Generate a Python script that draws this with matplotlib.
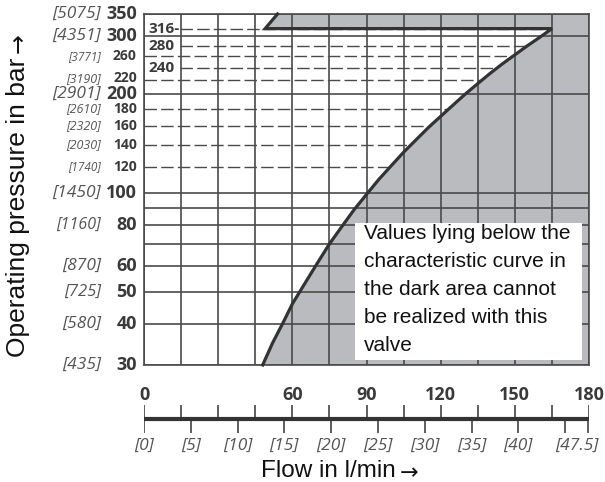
import numpy as np
import matplotlib.pyplot as plt
from matplotlib.patches import Rectangle
from matplotlib.transforms import offset_copy

# characteristic curve, flow in l/min vs pressure in bar
flow = [48, 52, 56, 60, 65, 70, 75, 80, 85, 90, 95, 100, 105, 110, 115, 120, 125, 130,
        135, 140, 145, 150, 155, 160, 165]
pressure = [30, 35, 40, 46, 53, 61, 70, 79, 89, 99, 110, 121, 133, 145, 158, 171, 185, 200,
            215, 231, 247, 263, 280, 297, 316]
p_max = 316
p_top = 350

# pressure axis
solid_levels = [30, 40, 50, 60, 70, 80, 90, 100, 200, 300, 350]
dashed_levels = [120, 140, 160, 180, 220, 260]
inner_levels = [316, 280, 240]
inner_labels = ['316-', '280', '240']
bar_labels = [350, 300, 260, 220, 200, 180, 160, 140, 120, 100, 80, 60, 50, 40, 30]
psi_labels = ['[5075]', '[4351]', '[3771]', '[3190]', '[2901]', '[2610]', '[2320]', '[2030]',
              '[1740]', '[1450]', '[1160]', '[870]', '[725]', '[580]', '[435]']
big_bar = [350, 300, 200, 100, 80, 60, 50, 40, 30]
psi_sizes = [12.5, 12.5, 8.5, 9, 12.5, 9, 9, 9, 8.5, 12.5, 11.5, 12.5, 12, 12.5, 12.5]

# flow axis
flow_ticks = list(range(0, 181, 15))
flow_labeled = [0, 60, 90, 120, 150, 180]
gal_ticks = [0, 5, 10, 15, 20, 25, 30, 35, 40, 45, 47.5]
gal_labels = ['[0]', '[5]', '[10]', '[15]', '[20]', '[25]', '[30]', '[35]', '[40]', '', '[47.5]']
L_PER_GAL = 3.785

W, H = 605, 482
fx = lambda x: x / W
fy = lambda y: 1 - y / H

grid_c = '#4a4a4a'
num_c = '#3a3a3a'
psi_c = '#555555'
fill_c = '#b9bbbf'
num_font = ['Open Sans', 'DejaVu Sans']
txt_font = ['Liberation Sans', 'DejaVu Sans']

fig = plt.figure(figsize=(W / 100, H / 100), dpi=100)

# main chart
ax = fig.add_axes([fx(144), fy(365), (589 - 144) / W, (365 - 14) / H])
ax.set_yscale('log')
ax.set_xlim(0, 180)
ax.set_ylim(30, 350)
ax.set_xticks([])
ax.set_yticks([])
ax.minorticks_off()
for s in ax.spines.values():
    s.set_color(grid_c)
    s.set_linewidth(1.2)

# dashed guide lines (under the shading)
ax.hlines(dashed_levels, 0, 180, colors=grid_c, linewidth=1.0, linestyles=(0, (9, 3)), zorder=1)
ax.hlines(inner_levels, 14.5, 180, colors=grid_c, linewidth=1.0, linestyles=(0, (9, 3)), zorder=1)

# shaded area right of the curve and above max pressure
poly_x = flow + [49, 54, 180, 180]
poly_y = pressure + [p_max, p_top, p_top, 30]
ax.fill(poly_x, poly_y, color=fill_c, linewidth=0, zorder=2)

# solid grid
for x in flow_ticks:
    ax.axvline(x, color=grid_c, linewidth=1.2, zorder=3)
for y in solid_levels:
    ax.axhline(y, color=grid_c, linewidth=1.2, zorder=3)

# characteristic curve with max pressure limit
ax.plot(flow + [49, 54], pressure + [p_max, p_top], color='#333333', linewidth=2.3,
        solid_joinstyle='miter', zorder=4, clip_on=False)

# inner labels
for lv, lab in zip(inner_levels, inner_labels):
    ax.text(1.6, lv, lab, ha='left', va='center', fontsize=11, fontweight='bold',
            color=num_c, family=num_font, zorder=5)

# left labels
ytr = ax.get_yaxis_transform()
for val, psi, ps in zip(bar_labels, psi_labels, psi_sizes):
    tr = offset_copy(ytr, fig=fig, y=2 if val == 220 else 0, units='dots')
    ax.text(-0.016, val, str(val), transform=tr, ha='right', va='center',
            fontsize=13 if val in big_bar else 10, fontweight='bold', color=num_c,
            family=num_font)
    ax.text(-0.096, val, psi, transform=tr, ha='right', va='center', fontsize=ps,
            fontstyle='italic', color=psi_c, family=num_font)

# note box
fig.patches.append(Rectangle((fx(355), fy(360)), (582 - 355) / W, (360 - 223) / H,
                             transform=fig.transFigure, facecolor='white', edgecolor='none',
                             zorder=5))
fig.text(fx(364), fy(224), 'Values lying below the\ncharacteristic curve in\nthe dark area cannot\n'
         'be realized with this\nvalve', ha='left', va='top', fontsize=15, linespacing=1.6,
         color='#111111', family=txt_font, zorder=6)

# flow scale below the chart: line at 0, l/min ticks up, gallon ticks down
ax2 = fig.add_axes([fx(144), fy(433), (589 - 144) / W, (433 - 405) / H])
ax2.set_xlim(0, 180)
ax2.set_ylim(-1, 1)
ax2.axis('off')
gal_pos = [g * L_PER_GAL for g in gal_ticks]
ax2.axhline(0, color='#333333', linewidth=3, solid_capstyle='butt')
ax2.vlines(flow_ticks, 0, 1, color='#333333', linewidth=1.1)
ax2.vlines(gal_pos, -1, 0, color='#333333', linewidth=1.1)
xtr = ax2.get_xaxis_transform()
for t in flow_labeled:
    ax2.text(t, 1.36, str(t), transform=xtr, ha='center', va='center', fontsize=13,
             fontweight='bold', color=num_c, family=num_font)
for g, lab in zip(gal_pos, gal_labels):
    xg = g if lab != '[47.5]' else g - 4.5
    ax2.text(xg, -0.45, lab, transform=xtr, ha='center', va='center', fontsize=12.5,
             fontstyle='italic', color=psi_c, family=num_font)

# axis titles with a long arrow
fig.canvas.draw()
rend = fig.canvas.get_renderer()
ylab = fig.text(fx(18), fy(357), 'Operating pressure in bar', rotation=90, ha='center',
                va='bottom', fontsize=19, family=txt_font, color='#111111')
ext = ylab.get_window_extent(rend)
fig.text(fx(19), (ext.y1 + 5) / H, '\u2192', rotation=90, ha='center', va='bottom',
         fontsize=17, family='DejaVu Sans', color='#111111')

fig.text(fx(396), fy(471), 'Flow in l/min', ha='right', va='center', fontsize=17.5,
         family=txt_font, color='#111111')
fig.text(fx(400), fy(473), '\u2192', ha='left', va='center', fontsize=16,
         family='DejaVu Sans', color='#111111')

fig.savefig('out.png', dpi=100)
